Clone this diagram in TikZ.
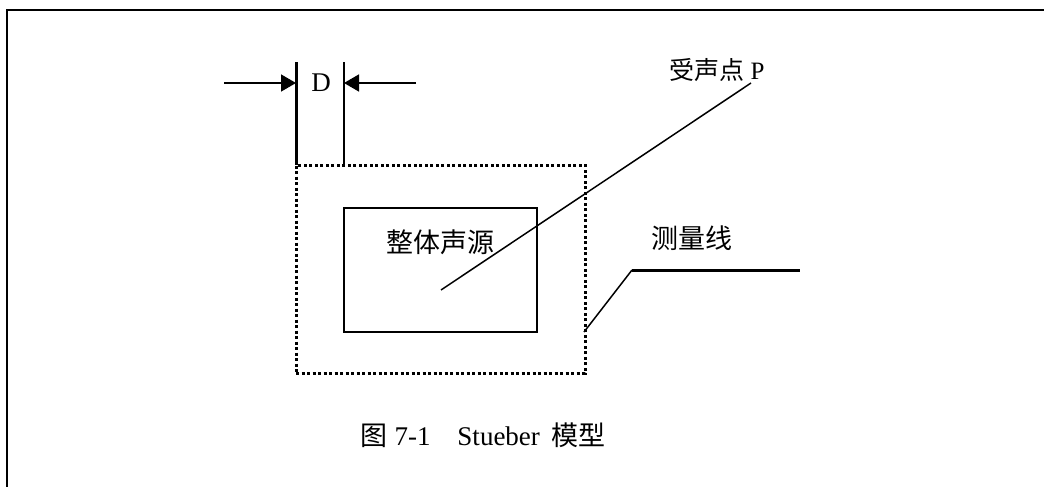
\documentclass[tikz,border=0pt]{standalone}
\usepackage{fontspec}
\setmainfont{Liberation Serif}
\newfontfamily\cjk{Noto Sans CJK SC}
\usetikzlibrary{arrows.meta}
\tikzset{
  frameline/.style={line width=1pt, black},
  thin line/.style={line width=0.75pt, black},
  thick line/.style={line width=1.5pt, black},
  dotbox/.style={draw, line width=1.5pt, dash pattern=on 1.5pt off 1.25pt, minimum width=144.5pt, minimum height=104pt, inner sep=0pt, outer sep=0pt},
  srcbox/.style={draw, line width=0.75pt, minimum width=96.5pt, minimum height=62pt, inner sep=0pt, outer sep=0pt},
  dimarrow/.style={thin line, -{Triangle[length=7.5pt,width=8.5pt]}},
  bigtxt/.style={inner sep=0pt, font=\fontsize{13.5}{16}\selectfont},
  smalltxt/.style={inner sep=0pt, font=\fontsize{12.5}{15}\selectfont},
}
\begin{document}
\begin{tikzpicture}[x=0.5pt,y=-0.5pt]
\useasboundingbox (0,0) rectangle (1044,487);
% outer frame
\coordinate (fb) at (7,487);
\coordinate (ftl) at (7,10);
\coordinate (fr) at (1044,10);
\draw[frameline] (fb) -- (ftl) -- (fr);
% boxes
\node[dotbox] (zone) at (440.5,269) {};
\node[srcbox] (src) at (440.5,270) {};
\node[bigtxt] (srctxt) at (440,242) {\cjk 整体声源};
% dimension D
\coordinate (lt) at (296,62);
\coordinate (lb) at (296,165);
\coordinate (rt) at (344,62);
\coordinate (rb) at (344,165);
\draw[thick line] (lt) -- (lb);
\draw[thin line] (rt) -- (rb);
\coordinate (la) at (224,83);
\coordinate (lae) at (296,83);
\coordinate (ra) at (416,83);
\coordinate (rae) at (344,83);
\draw[dimarrow] (la) -- (lae);
\draw[dimarrow] (ra) -- (rae);
\node[bigtxt] (D) at (321,83) {D};
% receiver
\node[smalltxt] (rcv) at (717,70) {{\cjk 受声点} P};
\coordinate (p) at (751,83);
\coordinate (s) at (441,290);
\draw[thin line] (s) -- (p);
% measurement line
\node[bigtxt] (mtxt) at (692,238) {\cjk 测量线};
\coordinate (m1) at (584,332);
\coordinate (m2) at (632,270);
\coordinate (m3) at (800,270);
\draw[thin line] (m1) -- (m2);
\draw[thick line] (m2) -- (m3);
% caption
\node[bigtxt] (cap) at (483,435) {{\cjk 图} 7-1\quad Stueber\, {\cjk 模型}};
\end{tikzpicture}
\end{document}
